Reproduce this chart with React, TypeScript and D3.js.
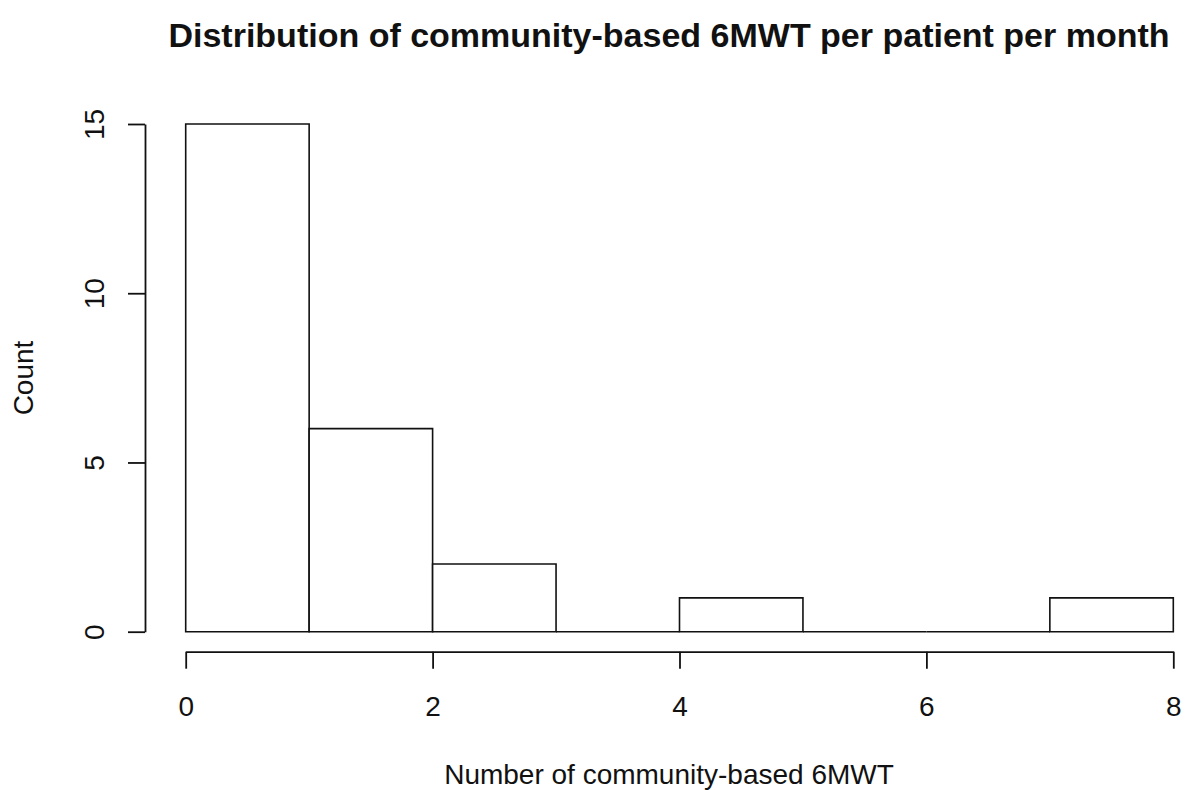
import React, { useRef, useEffect } from 'react';
import * as d3 from 'd3';

// histogram bins (break points) and their counts
const binEdges = [0, 1, 2, 3, 4, 5, 6, 7, 8];
const binCounts = [15, 6, 2, 0, 1, 0, 0, 1];
const xTicks = [0, 2, 4, 6, 8];
const yTicks = [0, 5, 10, 15];

const titleText = 'Distribution of community-based 6MWT per patient per month';
const xLabel = 'Number of community-based 6MWT';
const yLabel = 'Count';

const totalWidth = 1198;
const totalHeight = 790;
const fontFamily = '"Liberation Sans", Arial, Helvetica, sans-serif';
const ink = '#111';

const Histogram = () => {
    const svgRef = useRef<SVGSVGElement>(null);

    useEffect(() => {
        const svg = d3.select(svgRef.current)
            .attr('width', totalWidth)
            .attr('height', totalHeight);

        svg.selectAll('*').remove();

        const xScale = d3.scaleLinear().domain([0, 8]).range([185.7, 1173.3]);
        const yScale = d3.scaleLinear().domain([0, 15]).range([631.7, 124]);

        const bins = binCounts.map((count, i) => ({
            x0: binEdges[i],
            x1: binEdges[i + 1],
            count,
        }));

        // paths instead of rects so that empty bins still show as a flat line
        svg.append('g')
            .selectAll('path')
            .data(bins)
            .enter()
            .append('path')
            .attr('d', d => {
                const p = d3.path();
                p.moveTo(xScale(d.x0), yScale(0));
                p.lineTo(xScale(d.x0), yScale(d.count));
                p.lineTo(xScale(d.x1), yScale(d.count));
                p.lineTo(xScale(d.x1), yScale(0));
                p.closePath();
                return p.toString();
            })
            .attr('fill', 'white')
            .attr('stroke', ink)
            .attr('stroke-width', 1.6);

        // x axis
        const xAxisG = svg.append('g')
            .attr('transform', 'translate(0, 651.7)')
            .call(d3.axisBottom(xScale).tickValues(xTicks).tickSize(17).tickSizeOuter(0).tickFormat(d3.format('d')));
        xAxisG.select('.domain').attr('stroke', ink).attr('stroke-width', 1.8);
        xAxisG.selectAll('.tick line').attr('stroke', ink).attr('stroke-width', 1.8);
        xAxisG.selectAll('.tick text')
            .attr('y', 64.3)
            .attr('dy', null)
            .attr('fill', ink)
            .style('font-family', fontFamily)
            .style('font-size', '28px');

        // y axis, labels turned like R's default las = 0
        const yAxisG = svg.append('g')
            .attr('transform', 'translate(145, 0)')
            .call(d3.axisLeft(yScale).tickValues(yTicks).tickSize(17).tickSizeOuter(0));
        yAxisG.select('.domain').attr('stroke', ink).attr('stroke-width', 1.8);
        yAxisG.selectAll('.tick line').attr('stroke', ink).attr('stroke-width', 1.8);
        yAxisG.selectAll('.tick text')
            .attr('x', null)
            .attr('dy', null)
            .attr('transform', 'translate(-41, 0) rotate(-90)')
            .attr('text-anchor', 'middle')
            .attr('fill', ink)
            .style('font-family', fontFamily)
            .style('font-size', '28px');

        svg.append('text')
            .attr('x', 669)
            .attr('y', 46.7)
            .attr('text-anchor', 'middle')
            .style('font-family', fontFamily)
            .style('font-size', '34px')
            .style('font-weight', 'bold')
            .attr('fill', ink)
            .text(titleText);

        svg.append('text')
            .attr('x', 669)
            .attr('y', 783.5)
            .attr('text-anchor', 'middle')
            .style('font-family', fontFamily)
            .style('font-size', '28px')
            .attr('fill', ink)
            .text(xLabel);

        svg.append('text')
            .attr('transform', 'translate(33, 378) rotate(-90)')
            .attr('text-anchor', 'middle')
            .style('font-family', fontFamily)
            .style('font-size', '28px')
            .attr('fill', ink)
            .text(yLabel);
    }, []);

    return (
        <svg
            ref={svgRef}
            style={{ position: 'absolute', left: 0, top: 0, background: 'white' }}
        ></svg>
    );
};

export default function App() {
    return <Histogram />;
}
